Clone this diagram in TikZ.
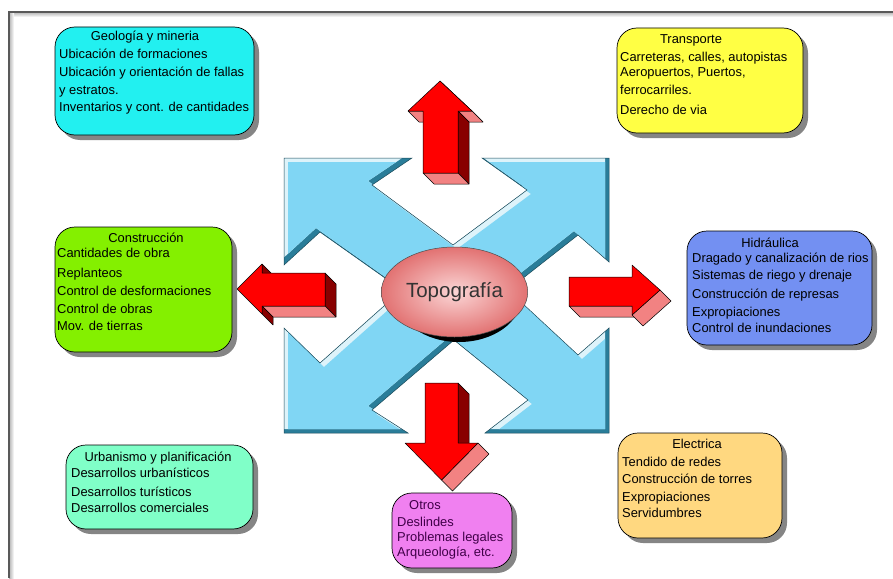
\documentclass[tikz,border=0pt]{standalone}
\usepackage{fontspec}
\setmainfont{Liberation Sans}
\usetikzlibrary{shapes.geometric,shadows}
\definecolor{cgeo}{HTML}{22F0F0}
\definecolor{ctra}{HTML}{FFFF44}
\definecolor{ccon}{HTML}{84F000}
\definecolor{chid}{HTML}{7390F2}
\definecolor{curb}{HTML}{80FFC8}
\definecolor{cotr}{HTML}{F080F0}
\definecolor{cele}{HTML}{FFD880}
\definecolor{tpur}{HTML}{400048}
\definecolor{bface}{HTML}{80D6F4}
\definecolor{bdark}{HTML}{2A7D99}
\definecolor{blight}{HTML}{DDF3FA}
\definecolor{bline}{HTML}{1A4A5A}
\definecolor{redF}{HTML}{FF0000}
\definecolor{redD}{HTML}{880000}
\definecolor{redP}{HTML}{F28282}
\definecolor{topoin}{HTML}{FBD6D6}
\definecolor{topoout}{HTML}{E27272}
\begin{document}
\begin{tikzpicture}[x=1pt,y=-1pt,
  ibox/.style={draw=black, line width=0.7pt, rounded corners=20pt, inner sep=0pt,
    drop shadow={shadow xshift=5pt, shadow yshift=-5pt, fill=black!60, opacity=0.8}},
  ttl/.style={anchor=base, font=\fontsize{12.9}{15}\selectfont, inner sep=0pt},
  ln/.style={anchor=base west, font=\fontsize{12.9}{15}\selectfont, inner sep=0pt},
  face/.style={draw=black, line width=0.5pt, line join=round},
  bshape/.style={insert path={(284,158) -- (412,158) -- (372,185) -- (453,245) -- (527,190) -- (482,158) -- (609,158) -- (609,262) -- (578,235) -- (508,290) -- (578,355) -- (609,328) -- (609,433) -- (485,433) -- (528,400) -- (454,340) -- (372,410) -- (408,433) -- (284,433) -- (284,328) -- (320,363) -- (402,290) -- (320,232) -- (284,265) -- cycle}}
]
\useasboundingbox (0,0) rectangle (893,578);
% slide frame
\shade[top color=black!30, bottom color=white] (9,12) rectangle (893,17);
\shade[left color=black!30, right color=white] (9,12) rectangle (14,578);
\draw[line width=1.2pt, black!65] (9,578) -- (9,12) -- (893,12);

% central bevelled shape
\begin{scope}
  \clip[bshape];
  \fill[bdark, bshape];
  \fill[blight, shift={(-4,-4)}, bshape];
  \begin{scope}
    \clip[shift={(4,4)}, bshape];
    \fill[bface, shift={(-4,-4)}, bshape];
  \end{scope}
\end{scope}
\draw[bline, line width=0.5pt, bshape];

% top arrow
\filldraw[face, fill=redF] (440,81) -- (472,111) -- (483,122) -- (451,92) -- cycle;
\filldraw[face, fill=redP] (458,111) -- (472,111) -- (483,122) -- (469,122) -- cycle;
\filldraw[face, fill=redD] (458,111) -- (469,122) -- (469,184) -- (458,173) -- cycle;
\filldraw[face, fill=redP] (423,173) -- (458,173) -- (469,184) -- (434,184) -- cycle;
\filldraw[face, fill=redP] (408,111) -- (423,111) -- (434,122) -- (419,122) -- cycle;
\filldraw[face, fill=redF] (440,81) -- (408,111) -- (423,111) -- (423,173) -- (458,173) -- (458,111) -- (472,111) -- cycle;

% left arrow
\filldraw[face, fill=redD] (262,264) -- (273,275) -- (273,284) -- (262,273) -- cycle;
\filldraw[face, fill=redD] (325,273) -- (336,284) -- (336,317) -- (325,306) -- cycle;
\filldraw[face, fill=redP] (262,306) -- (325,306) -- (336,317) -- (273,317) -- cycle;
\filldraw[face, fill=redD] (262,306) -- (273,317) -- (273,325) -- (262,314) -- cycle;
\filldraw[face, fill=redF] (237,289) -- (262,264) -- (262,273) -- (325,273) -- (325,306) -- (262,306) -- (262,314) -- cycle;

% right arrow
\filldraw[face, fill=redP] (569,306) -- (632,306) -- (643,317) -- (580,317) -- cycle;
\filldraw[face, fill=redP] (660,290) -- (671,301) -- (643,326) -- (632,315) -- cycle;
\filldraw[face, fill=redF] (569,277) -- (632,277) -- (632,265) -- (660,290) -- (632,315) -- (632,306) -- (569,306) -- cycle;

% bottom arrow
\filldraw[face, fill=redD] (458,383) -- (469,394) -- (469,454) -- (458,443) -- cycle;
\filldraw[face, fill=redP] (478,443) -- (489,454) -- (452.5,491) -- (441.5,480) -- cycle;
\filldraw[face, fill=redF] (425,383) -- (458,383) -- (458,443) -- (478,443) -- (441.5,480) -- (405,443) -- (425,443) -- cycle;

% central ellipse with its shadow
\fill[black] (459,297) ellipse [x radius=62.5, y radius=45];
\node[ellipse, minimum width=125pt, minimum height=90pt, draw=black!70, line width=0.5pt,
  inner color=topoin, outer color=topoout,
  font=\fontsize{20.5}{24}\selectfont, text=black!80] (topo) at (454.5,292) {Topografía};

% Geologia
\node[ibox, fill=cgeo, minimum width=199pt, minimum height=108pt] (geo) at (154.5,81) {};
\node[ttl] (geo-t) at (145,41) {Geología y mineria};
\node[ln] (geo-1) at (59,59) {Ubicación de formaciones};
\node[ln] (geo-2) at (59,77) {Ubicación y orientación de fallas};
\node[ln] (geo-3) at (59,94) {y estratos.};
\node[ln] (geo-4) at (59,111) {Inventarios y cont. de cantidades};

% Transporte
\node[ibox, fill=ctra, minimum width=186pt, minimum height=105pt] (tra) at (710,80.5) {};
\node[ttl] (tra-t) at (691,44) {Transporte};
\node[ln] (tra-1) at (620,61) {Carreteras, calles, autopistas};
\node[ln] (tra-2) at (620,77) {Aeropuertos, Puertos,};
\node[ln] (tra-3) at (620,94) {ferrocarriles.};
\node[ln] (tra-4) at (620,114) {Derecho de via};

% Construccion
\node[ibox, fill=ccon, minimum width=177pt, minimum height=125pt] (con) at (143.5,289.5) {};
\node[ttl] (con-t) at (146,242) {Construcción};
\node[ln] (con-1) at (57,257) {Cantidades de obra};
\node[ln] (con-2) at (57,277) {Replanteos};
\node[ln] (con-3) at (57,295) {Control de desformaciones};
\node[ln] (con-4) at (57,313) {Control de obras};
\node[ln] (con-5) at (57,330) {Mov. de tierras};

% Hidraulica
\node[ibox, fill=chid, minimum width=185pt, minimum height=114pt] (hid) at (779.5,288) {};
\node[ttl] (hid-t) at (770,247) {Hidráulica};
\node[ln] (hid-1) at (692,262) {Dragado y canalización de rios};
\node[ln] (hid-2) at (692,279) {Sistemas de riego y drenaje};
\node[ln] (hid-3) at (692,298) {Construcción de represas};
\node[ln] (hid-4) at (692,316) {Expropiaciones};
\node[ln] (hid-5) at (692,332) {Control de inundaciones};

% Urbanismo
\node[ibox, fill=curb, minimum width=187pt, minimum height=84pt] (urb) at (159.5,487) {};
\node[ttl] (urb-t) at (158,461) {Urbanismo y planificación};
\node[ln] (urb-1) at (71,477) {Desarrollos urbanísticos};
\node[ln] (urb-2) at (71,496) {Desarrollos turísticos};
\node[ln] (urb-3) at (71,512) {Desarrollos comerciales};

% Otros
\node[ibox, fill=cotr, minimum width=120pt, minimum height=75pt] (otr) at (452,530.5) {};
\node[ttl, text=tpur] (otr-t) at (425,509) {Otros};
\node[ln, text=tpur] (otr-1) at (397,526) {Deslindes};
\node[ln, text=tpur] (otr-2) at (397,541) {Problemas legales};
\node[ln, text=tpur] (otr-3) at (397,556) {Arqueología, etc.};

% Electrica
\node[ibox, fill=cele, minimum width=164pt, minimum height=105pt] (ele) at (700,485.5) {};
\node[ttl] (ele-t) at (697,448) {Electrica};
\node[ln] (ele-1) at (622,466) {Tendido de redes};
\node[ln] (ele-2) at (622,483) {Construcción de torres};
\node[ln] (ele-3) at (622,501) {Expropiaciones};
\node[ln] (ele-4) at (622,517) {Servidumbres};
\end{tikzpicture}
\end{document}
